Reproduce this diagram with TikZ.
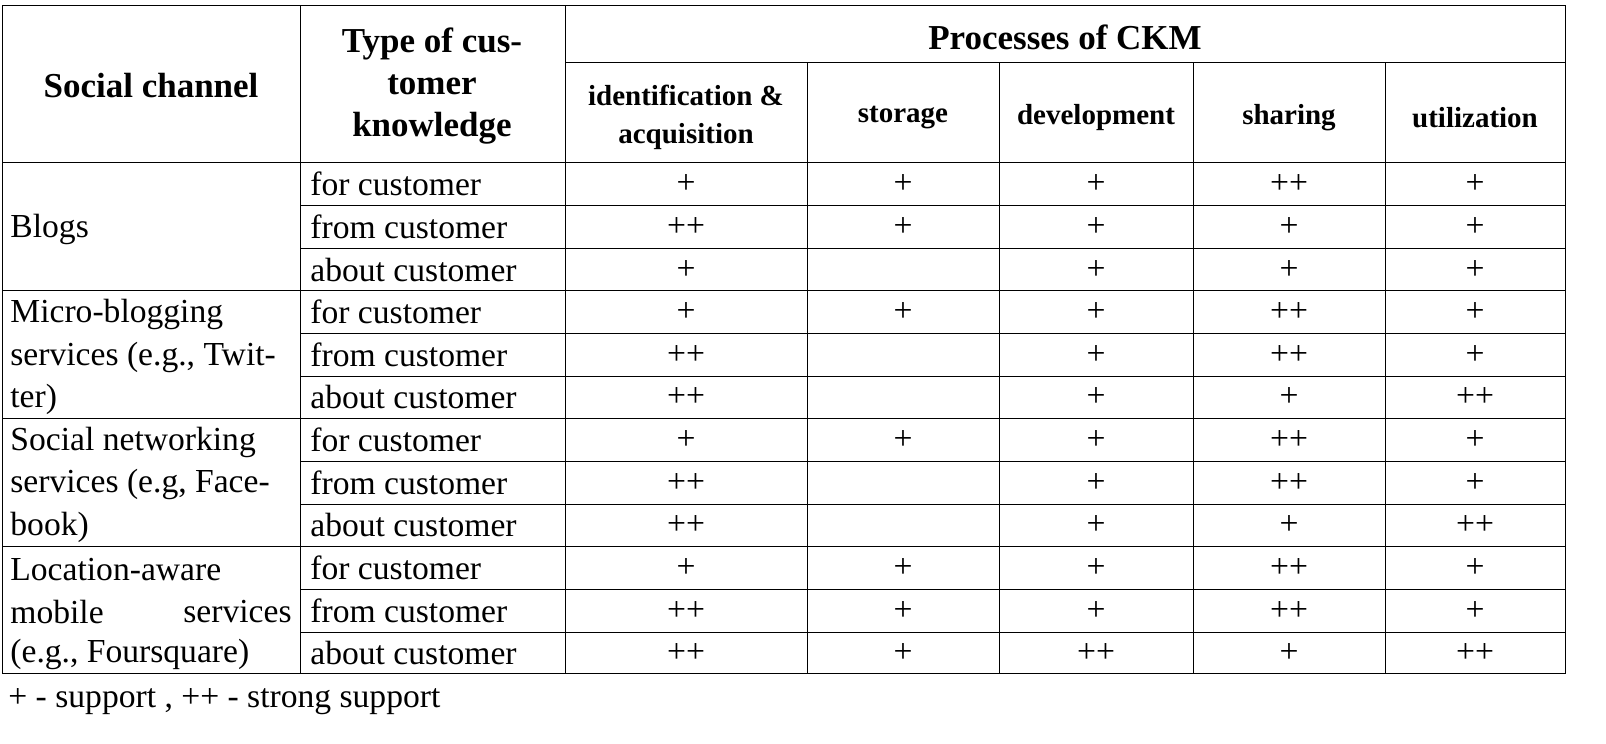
\documentclass[tikz,border=0pt]{standalone}
\usepackage{fontspec}
\setmainfont{Liberation Serif}
\begin{document}
\begin{tikzpicture}[x=0.5pt,y=-0.5pt,
  cell/.style={inner sep=0pt, font=\fontsize{16.8}{19}\selectfont},
  hd/.style={inner sep=0pt, font=\bfseries\fontsize{17.5}{21}\selectfont, align=center},
  sub/.style={inner sep=0pt, font=\bfseries\fontsize{14.5}{19}\selectfont, align=center}]
 \useasboundingbox (0,0) rectangle (1606,744);
 % grid lines
 \draw[thin] (2,5) rectangle (1565,673);
 \draw[thin] (565,62) -- (1565,62);
 \draw[thin] (2,162) -- (1565,162);
 \foreach \y in {205,248,333,376,461,504,589,632}
   \draw[thin] (300,\y) -- (1565,\y);
 \foreach \y in {290,418,546}
   \draw[thin] (2,\y) -- (1565,\y);
 \draw[thin] (300,5) -- (300,673);
 \draw[thin] (565,5) -- (565,673);
 \foreach \x in {807,999,1193,1385}
   \draw[thin] (\x,62) -- (\x,673);

  % header
  \node[hd] (chan) at (151,86) {Social channel};
  \node[hd] (type) at (432,86) {Type of cus-\\tomer\\knowledge};
  \node[hd] (ckm) at (1065,37) {Processes of CKM};
  \node[sub] (p1) at (686,117) {identification \&\\acquisition};
  \node[sub] (p2) at (903,118) {storage};
  \node[sub] (p3) at (1096,118) {development};
  \node[sub] (p4) at (1289,118) {sharing};
  \node[sub] (p5) at (1475,118) {utilization};

  % left column
  \node[cell, anchor=west] (blogs) at (10,229) {Blogs};
  \node[cell, anchor=west] (mb1) at (10,314) {Micro-blogging};
  \node[cell, anchor=west] (mb2) at (10,357) {services (e.g., Twit-};
  \node[cell, anchor=west] (mb3) at (10,399) {ter)};
  \node[cell, anchor=west] (sn1) at (10,442) {Social networking};
  \node[cell, anchor=west] (sn2) at (10,484) {services (e.g, Face-};
  \node[cell, anchor=west] (sn3) at (10,527) {book)};
  \node[cell, anchor=west] (la1) at (10,570) {Location-aware};
  \node[cell, anchor=west] (la2a) at (10,612) {mobile};
  \node[cell, anchor=east] (la2b) at (292,612) {services};
  \node[cell, anchor=west] (la3) at (10,654) {(e.g., Foursquare)};

  % rows
  \foreach \r/\y/\t/\a/\b/\c/\d/\e in {
    1/184/for/+/+/+/++/+, 2/227/from/++/+/+/+/+, 3/270/about/+//+/+/+,
    4/312/for/+/+/+/++/+, 5/355/from/++//+/++/+, 6/397/about/++//+/+/++,
    7/440/for/+/+/+/++/+, 8/483/from/++//+/++/+, 9/525/about/++//+/+/++,
    10/568/for/+/+/+/++/+, 11/611/from/++/+/+/++/+, 12/653/about/++/+/++/+/++} {
    \node[cell, anchor=west] (t\r) at (310,\y) {\t{} customer};
    \node[cell] (a\r) at (686,\y) {\a};
    \node[cell] (b\r) at (903,\y) {\b};
    \node[cell] (c\r) at (1096,\y) {\c};
    \node[cell] (d\r) at (1289,\y) {\d};
    \node[cell] (e\r) at (1475,\y) {\e};
  }

  \node[cell, anchor=west] (legend) at (8,702) {+ - support , ++ - strong support};
\end{tikzpicture}
\end{document}
